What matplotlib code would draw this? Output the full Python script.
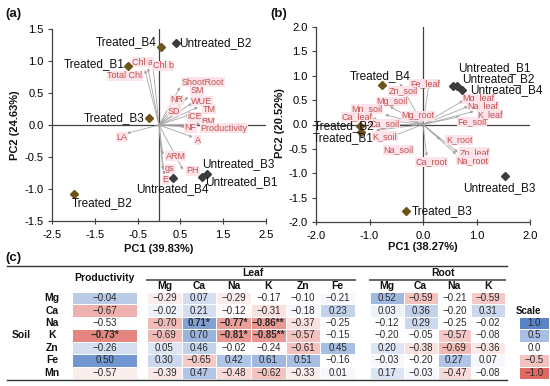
import numpy as np
import matplotlib.pyplot as plt
from matplotlib.colors import LinearSegmentedColormap
from matplotlib.ticker import FormatStrFormatter

plt.rcParams['font.family'] = ['Liberation Sans', 'DejaVu Sans']

#%% data - panel (a) scores
a_names = ['Treated_B1', 'Treated_B2', 'Treated_B3', 'Treated_B4',
           'Untreated_B1', 'Untreated_B2', 'Untreated_B3', 'Untreated_B4']
a_pc1 = [-0.72, -1.99, -0.23, 0.05, 1.00, 0.39, 1.12, 0.32]
a_pc2 = [0.92, -1.08, 0.11, 1.22, -0.82, 1.28, -0.77, -0.83]

# panel (a) loadings
a_vars = ['Chl a', 'Chl b', 'Total Chl', 'ShootRoot', 'SM', 'NR', 'WUE', 'TM', 'SD',
          'iCE', 'BM', 'Productivity', 'NF', 'A', 'LA', 'ARM', 'PH', 'gs', 'E']
a_load1 = [-0.26, -0.14, -0.33, 0.49, 0.68, 0.30, 0.77, 0.91, 0.49,
           0.72, 0.96, 0.89, 0.61, 0.79, -0.75, 0.09, 0.56, 0.09, 0.12]
a_load2 = [0.89, 0.91, 0.86, 0.59, 0.44, 0.27, 0.34, 0.28, 0.23,
           0.16, 0.02, -0.02, -0.03, -0.19, -0.13, -0.47, -0.70, -0.70, -0.78]

# panel (b) scores
b_names = ['Treated_B1', 'Treated_B2', 'Treated_B3', 'Treated_B4',
           'Untreated_B1', 'Untreated_B2', 'Untreated_B3', 'Untreated_B4']
b_pc1 = [-1.16, -1.18, -0.32, -0.77, 0.56, 0.64, 1.53, 0.73]
b_pc2 = [-0.16, -0.04, -1.78, 0.82, 0.80, 0.78, -1.06, 0.71]

# panel (b) loadings
b_vars = ['Fe_leaf', 'Zn_soil', 'Mg_soil', 'Mn_soil', 'Ca_leaf', 'Mg_root', 'Ca_soil',
          'K_soil', 'Na_soil', 'Ca_root', 'K_root', 'Zn_leaf', 'Na_root', 'Fe_soil',
          'Mg_leaf', 'Na_leaf', 'K_leaf']
b_load1 = [0.11, -0.43, -0.62, -0.71, -0.95, -0.34, -0.88, -0.88, -0.69, 0.07, 0.32,
           0.65, 0.62, 0.69, 0.75, 0.84, 0.95]
b_load2 = [0.82, 0.84, 0.37, 0.20, 0.12, 0.14, 0.00, -0.12, -0.29, -0.65, -0.31,
           -0.57, -0.61, 0.16, 0.49, 0.37, 0.27]

#%% data - table (c)
soil_rows = ['Mg', 'Ca', 'Na', 'K', 'Zn', 'Fe', 'Mn']
leaf_cols = ['Mg', 'Ca', 'Na', 'K', 'Zn', 'Fe']
root_cols = ['Mg', 'Ca', 'Na', 'K']
productivity = [-0.04, -0.67, -0.53, -0.73, -0.26, 0.50, -0.57]
prod_sig = ['', '', '', '*', '', '', '']
leaf = [[-0.29, 0.07, -0.29, -0.17, -0.10, -0.21],
        [-0.02, 0.21, -0.12, -0.31, -0.18, 0.23],
        [-0.70, 0.71, -0.77, -0.86, -0.37, -0.25],
        [-0.69, 0.70, -0.81, -0.85, -0.57, -0.15],
        [0.05, 0.46, -0.02, -0.24, -0.61, 0.45],
        [0.30, -0.65, 0.42, 0.61, 0.51, -0.16],
        [-0.39, 0.47, -0.48, -0.62, -0.33, 0.01]]
leaf_sig = [['', '', '', '', '', ''],
            ['', '', '', '', '', ''],
            ['', '*', '*', '**', '', ''],
            ['', '', '*', '**', '', ''],
            ['', '', '', '', '', ''],
            ['', '', '', '', '', ''],
            ['', '', '', '', '', '']]
root = [[0.52, -0.59, -0.21, -0.59],
        [0.03, 0.36, -0.20, 0.31],
        [-0.12, 0.29, -0.25, -0.02],
        [-0.20, -0.05, -0.57, -0.08],
        [0.20, -0.38, -0.69, -0.36],
        [-0.03, -0.20, 0.27, 0.07],
        [0.17, -0.03, -0.47, -0.08]]
# cell shading (scale -1..1)
prod_shade = [0.4, -0.6, 0.0, -0.85, 0.25, 0.85, -0.15]
leaf_shade = [[-0.15, 0.25, -0.15, 0.0, 0.0, 0.05],
              [0.1, 0.25, -0.05, -0.25, 0.05, 0.35],
              [-0.55, 0.75, -0.7, -0.75, -0.25, 0.0],
              [-0.55, 0.6, -0.75, -0.75, -0.5, 0.0],
              [0.2, 0.35, 0.0, -0.05, -0.5, 0.5],
              [0.3, -0.45, 0.45, 0.55, 0.5, 0.0],
              [-0.2, 0.45, -0.3, -0.5, -0.15, 0.05]]
root_shade = [[0.55, -0.5, 0.0, -0.45],
              [0.1, 0.35, 0.0, 0.3],
              [0.0, 0.3, 0.0, 0.0],
              [0.0, 0.0, -0.45, 0.0],
              [0.2, -0.25, -0.55, -0.2],
              [0.05, 0.0, 0.45, 0.05],
              [0.2, 0.05, -0.3, 0.0]]
scale_vals = [1.0, 0.5, 0.0, -0.5, -1.0]

#%% layout (pixel offsets of the labels)
a_score_off = {'Treated_B1': (-4, 2, 'right'), 'Treated_B2': (-2, -9, 'left'),
               'Treated_B3': (-5, 0, 'right'), 'Treated_B4': (-4, 5, 'right'),
               'Untreated_B1': (3, -5, 'left'), 'Untreated_B2': (3, 0, 'left'),
               'Untreated_B3': (-5, 10, 'left'), 'Untreated_B4': (0, -11, 'center')}
a_load_off = {'Chl a': (-5, 6), 'Chl b': (10, 1), 'Total Chl': (-20, -6), 'ShootRoot': (23, 5),
              'SM': (9, 6), 'NR': (5, 8), 'WUE': (10, 2), 'TM': (11, -2), 'SD': (-6, -1),
              'iCE': (5, -2), 'BM': (8, 2), 'Productivity': (27, -2), 'NF': (5, -1),
              'A': (5, -3), 'LA': (-5, -4), 'ARM': (13, -1), 'PH': (10, -1), 'gs': (7, 1),
              'E': (1, -5)}
b_score_off = {'Treated_B1': (13, -6, 'right'), 'Treated_B2': (15, 0, 'right'),
               'Treated_B3': (6, 0, 'left'), 'Treated_B4': (-2, 8, 'center'),
               'Untreated_B1': (5, 17, 'left'), 'Untreated_B2': (5, 7, 'left'),
               'Untreated_B3': (-6, -12, 'center'), 'Untreated_B4': (8, 0, 'left')}
b_load_off = {'Fe_leaf': (-4, 1), 'Zn_soil': (3, -7), 'Mg_soil': (2, 5), 'Mn_soil': (-18, 6),
              'Ca_leaf': (-15, 2), 'Mg_root': (13, 2), 'Ca_soil': (9, 1), 'K_soil': (9, -6),
              'Na_soil': (12, -11), 'Ca_root': (5, -6), 'K_root': (19, 0), 'Zn_leaf': (17, 0),
              'Na_root': (16, -6), 'Fe_soil': (12, -5), 'Mg_leaf': (15, 2), 'Na_leaf': (15, 1),
              'K_leaf': (16, -3)}

W, H = 550, 386
fig = plt.figure(figsize=(W / 100, H / 100), dpi=100)

def px_axes(x0, y0, x1, y1):
    return fig.add_axes([x0 / W, 1 - y1 / H, (x1 - x0) / W, (y1 - y0) / H])

treat_col = '#6e5418'
untreat_col = '#3c3c3c'
load_col = '#c0504d'
pink = '#fde4ea'

def pca_panel(ax, xlim, ylim, xt, yt, names, s1, s2, s_off, vars_, l1, l2, l_off):
    ax.set_xlim(xlim)
    ax.set_ylim(ylim)
    ax.spines[['top', 'right']].set_visible(False)
    for s in ['left', 'bottom']:
        ax.spines[s].set_color('#404040')
        ax.spines[s].set_linewidth(0.9)
    ax.plot(xlim, [0, 0], color='#404040', lw=0.9, zorder=1)
    ax.plot([0, 0], ylim, color='#404040', lw=0.9, zorder=1)
    ax.set_xticks(xt)
    ax.set_yticks(yt)
    ax.xaxis.set_major_formatter(FormatStrFormatter('%.1f'))
    ax.yaxis.set_major_formatter(FormatStrFormatter('%.1f'))
    ax.tick_params(axis='y', direction='out', length=3, width=0.8, labelsize=8,
                   color='#404040', pad=3)
    ax.tick_params(axis='x', direction='inout', length=5, width=0.8, labelsize=8,
                   color='#404040', pad=4)
    ax.patch.set_alpha(0)
    for v, x, y in zip(vars_, l1, l2):
        ax.annotate('', xy=(x, y), xytext=(0, 0),
                    arrowprops=dict(arrowstyle='-|>', color='#a6a6a6', lw=0.6,
                                    mutation_scale=4, shrinkA=0, shrinkB=0), zorder=2)
        dx, dy = l_off[v]
        ax.annotate(v, (x, y), xytext=(dx, dy), textcoords='offset pixels',
                    ha='center', va='center', fontsize=6.5, color=load_col, zorder=3,
                    bbox=dict(boxstyle='square,pad=0.05', fc=pink, ec='none'))
    for n, x, y in zip(names, s1, s2):
        c = treat_col if n.startswith('Treated') else untreat_col
        ax.plot(x, y, 'D', color=c, ms=3.8, zorder=4)
        dx, dy, ha = s_off[n]
        ax.annotate(n, (x, y), xytext=(dx, dy), textcoords='offset pixels',
                    ha=ha, va='center', fontsize=8.5, color='#111111', zorder=5)

axa = px_axes(52, 29, 266, 221)
pca_panel(axa, (-2.5, 2.5), (-1.5, 1.5), np.arange(-2.5, 2.6, 1.0), np.arange(-1.5, 1.6, 0.5),
          a_names, a_pc1, a_pc2, a_score_off, a_vars, a_load1, a_load2, a_load_off)
axb = px_axes(316, 27, 530, 222)
pca_panel(axb, (-2.0, 2.0), (-2.0, 2.0), np.arange(-2.0, 2.1, 1.0), np.arange(-2.0, 2.1, 0.5),
          b_names, b_pc1, b_pc2, b_score_off, b_vars, b_load1, b_load2, b_load_off)

# overlay axes in pixel units for texts and the table
axt = fig.add_axes([0, 0, 1, 1], zorder=-1)
axt.set_xlim(0, W)
axt.set_ylim(H, 0)
axt.axis('off')

bold = dict(fontweight='bold', color='#111111')
axt.text(5, 14, '(a)', fontsize=9.5, ha='left', va='center', **bold)
axt.text(270, 14, '(b)', fontsize=9.5, ha='left', va='center', **bold)
axt.text(5, 258, '(c)', fontsize=9.5, ha='left', va='center', **bold)
axt.text(159, 249, 'PC1 (39.83%)', fontsize=8, ha='center', va='center', **bold)
axt.text(423, 247, 'PC1 (38.27%)', fontsize=8, ha='center', va='center', **bold)
axt.text(15, 125, 'PC2 (24.63%)', fontsize=8, ha='center', va='center', rotation=90, **bold)
axt.text(280, 123, 'PC2 (20.52%)', fontsize=8, ha='center', va='center', rotation=90, **bold)

#%% table
cmap = LinearSegmentedColormap.from_list(
    'rw_b', ['#df6a63', '#f3c3c0', '#ffffff', '#a9bfe3', '#5b84c7'])
y_edges = np.linspace(292, 379, len(soil_rows) + 1)
y_mid = (y_edges[:-1] + y_edges[1:]) / 2
prod_x = np.array([72, 137])
leaf_x = np.linspace(147, 355, len(leaf_cols) + 1)
root_x = np.linspace(370, 505, len(root_cols) + 1)
scale_x = np.array([519, 549])

def block(xe, ye, shade):
    axt.pcolormesh(xe, ye, np.array(shade), cmap=cmap, vmin=-1, vmax=1,
                   edgecolors='white', linewidth=0.6)

block(prod_x, y_edges, np.array(prod_shade)[:, None])
block(leaf_x, y_edges, leaf_shade)
block(root_x, y_edges, root_shade)
block(scale_x, y_edges[2:], np.array(scale_vals)[:, None])

def fmt(v):
    return f'{v:.2f}'.replace('-', '\u2212')

txt = dict(fontsize=7, ha='center', va='center', color='#2b2b2b')
for i, y in enumerate(y_mid):
    s = prod_sig[i]
    axt.text(prod_x.mean(), y, fmt(productivity[i]) + s,
             fontweight='bold' if s else 'normal', **txt)
    for j in range(len(leaf_cols)):
        s = leaf_sig[i][j]
        axt.text((leaf_x[j] + leaf_x[j + 1]) / 2, y, fmt(leaf[i][j]) + s,
                 fontweight='bold' if s else 'normal', **txt)
    for j in range(len(root_cols)):
        axt.text((root_x[j] + root_x[j + 1]) / 2, y, fmt(root[i][j]), **txt)
    axt.text(52, y, soil_rows[i], fontsize=7.5, ha='center', va='center', **bold)
for k, v in enumerate(scale_vals):
    axt.text(scale_x.mean(), y_mid[k + 2], f'{v:.1f}'.replace('-', '\u2212'), **txt)
axt.text(528, y_mid[1], 'Scale', fontsize=7, ha='center', va='center', **bold)
axt.text(21, y_mid[3], 'Soil', fontsize=7.5, ha='center', va='center', **bold)

# headers
axt.text(prod_x.mean(), 278, 'Productivity', fontsize=7.5, ha='center', va='center', **bold)
axt.text(253, 273, 'Leaf', fontsize=7.5, ha='center', va='center', **bold)
axt.text(443, 273, 'Root', fontsize=7.5, ha='center', va='center', **bold)
for j, c in enumerate(leaf_cols):
    axt.text((leaf_x[j] + leaf_x[j + 1]) / 2, 286, c, fontsize=7.5, ha='center', va='center', **bold)
for j, c in enumerate(root_cols):
    axt.text((root_x[j] + root_x[j + 1]) / 2, 286, c, fontsize=7.5, ha='center', va='center', **bold)

axt.plot([7, 507], [266, 266], color='#333333', lw=1.0)
axt.plot([7, 507], [379.5, 379.5], color='#333333', lw=1.0)
axt.plot([leaf_x[0], leaf_x[-1]], [280, 280], color='#666666', lw=1.4)
axt.plot([root_x[0], root_x[-1]], [280, 280], color='#666666', lw=1.4)

fig.savefig('out.png', dpi=100)
